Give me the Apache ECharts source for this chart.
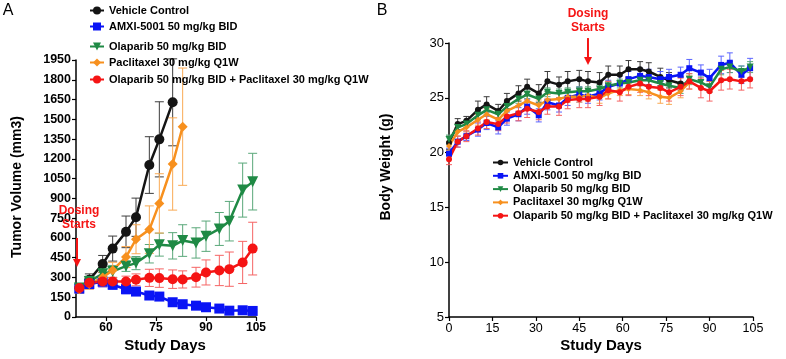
<!DOCTYPE html>
<html>
<head>
<meta charset="utf-8">
<script src="https://cdn.jsdelivr.net/npm/echarts@6/dist/echarts.min.js"></script>
<style>
  html, body { margin: 0; padding: 0; background: #fff; }
  #chart { width: 786px; height: 359px; }
</style>
</head>
<body>
<div id="chart"></div>
<script>
// Panel A: tumour volume (mm3), mean and error
const tvDays = [52, 55, 59, 62, 66, 69, 73, 76, 80, 83, 87, 90, 94, 97, 101, 104];
const tvVehicle = [219, 282, 402, 519, 646, 757, 1153, 1348, 1629];
const tvVehicleErr = [30, 45, 65, 95, 120, 145, 215, 285, 330];
const tvAmxi = [215, 250, 268, 245, 211, 193, 163, 155, 112, 97, 86, 74, 64, 48, 51, 46];
const tvAmxiErr = [30, 35, 40, 35, 35, 30, 28, 25, 18, 15, 15, 12, 10, 8, 8, 8];
const tvOla = [220, 270, 328, 346, 386, 409, 480, 549, 540, 580, 562, 613, 668, 727, 963, 1027];
const tvOlaErr = [30, 40, 45, 45, 40, 50, 70, 87, 100, 120, 115, 115, 125, 150, 205, 215];
const tvPac = [210, 250, 300, 355, 455, 590, 663, 862, 1161, 1444];
const tvPacErr = [30, 40, 40, 60, 80, 110, 180, 225, 350, 445];
const tvCombo = [220, 260, 270, 270, 270, 282, 297, 295, 287, 285, 302, 338, 353, 363, 414, 519];
const tvComboErr = [30, 35, 40, 30, 40, 45, 65, 70, 70, 65, 75, 95, 115, 130, 160, 200];
const tvXTicks = [60, 75, 90, 105];

// Panel B: body weight (g)
const bwDays = [0, 3, 6, 10, 13, 17, 20, 24, 27, 31, 34, 38, 41, 45, 48, 52, 55, 59, 62, 66, 69, 73, 76, 80, 83, 87, 90, 94, 97, 101, 104];
const bwVehicle = [20.9, 22.6, 22.9, 23.9, 24.4, 23.8, 24.7, 25.4, 26.0, 25.4, 26.5, 26.2, 26.5, 26.7, 26.5, 26.4, 27.1, 27.1, 27.6, 27.6, 27.4, 26.9, 26.6, 26.3];
const bwVehicleErr = [0.6, 0.5, 0.4, 0.8, 0.7, 0.6, 0.7, 0.7, 0.7, 0.8, 0.9, 0.7, 0.9, 0.8, 0.9, 0.9, 0.8, 0.8, 0.8, 0.7, 0.8, 0.8, 0.7, 0.6];
const bwAmxi = [19.9, 21.0, 21.5, 22.1, 22.7, 22.3, 23.1, 23.5, 24.2, 23.4, 24.6, 24.3, 25.0, 25.3, 25.1, 25.4, 26.0, 26.3, 26.7, 27.0, 26.9, 26.7, 26.9, 27.1, 27.7, 27.3, 26.8, 28.0, 28.2, 27.1, 27.7];
const bwAmxiErr = [0.5, 0.5, 0.4, 0.6, 0.6, 0.6, 0.6, 0.6, 0.7, 0.6, 0.7, 0.6, 0.7, 0.7, 0.6, 0.6, 0.6, 0.7, 0.7, 0.7, 0.7, 0.7, 0.7, 0.7, 0.8, 0.7, 0.8, 0.8, 0.9, 0.8, 0.9];
const bwOla = [21.2, 22.3, 22.6, 23.4, 23.9, 23.5, 24.2, 24.9, 25.3, 24.9, 25.5, 25.4, 25.5, 25.6, 25.6, 25.8, 26.1, 26.3, 26.4, 26.6, 26.6, 26.3, 26.1, 25.9, 26.7, 26.4, 26.0, 27.6, 27.8, 27.4, 27.8];
const bwOlaErr = [0.4, 0.3, 0.3, 0.4, 0.4, 0.4, 0.4, 0.4, 0.4, 0.4, 0.4, 0.4, 0.4, 0.4, 0.4, 0.4, 0.4, 0.4, 0.5, 0.5, 0.5, 0.5, 0.5, 0.5, 0.5, 0.5, 0.5, 0.5, 0.5, 0.5, 0.5];
const bwPac = [20.6, 21.9, 22.3, 23.0, 23.5, 23.0, 23.8, 24.3, 24.7, 24.3, 24.8, 24.9, 25.1, 25.1, 25.2, 25.0, 25.4, 25.7, 25.8, 25.7, 25.5, 25.1, 25.0, 25.6, 26.4];
const bwPacErr = [0.4, 0.4, 0.4, 0.5, 0.5, 0.5, 0.5, 0.5, 0.5, 0.5, 0.5, 0.5, 0.5, 0.5, 0.5, 0.5, 0.5, 0.5, 0.5, 0.5, 0.6, 0.6, 0.6, 0.6, 0.6];
const bwCombo = [19.4, 21.0, 21.5, 22.2, 22.8, 22.6, 23.3, 23.6, 24.0, 23.7, 24.2, 24.2, 24.8, 24.9, 24.9, 25.1, 25.7, 25.5, 26.0, 26.3, 26.0, 25.9, 25.5, 26.0, 26.5, 25.9, 25.6, 26.6, 26.7, 26.5, 26.7];
const bwComboErr = [0.5, 0.5, 0.5, 0.6, 0.6, 0.6, 0.6, 0.7, 0.8, 0.7, 0.7, 0.8, 0.8, 0.8, 0.8, 0.8, 0.8, 0.8, 0.8, 0.8, 0.8, 0.8, 0.8, 0.8, 0.7, 0.9, 0.9, 0.9, 0.9, 0.8, 0.8];

const names = [
  'Vehicle Control',
  'AMXI-5001 50 mg/kg BID',
  'Olaparib 50 mg/kg BID',
  'Paclitaxel 30 mg/kg Q1W',
  'Olaparib 50 mg/kg BID + Paclitaxel 30 mg/kg Q1W',
];
const colors = ['#141414', '#0a14f5', '#1f8a45', '#f7901e', '#f51414'];
const errColors = ['#3c3c3c', '#5a64ff', '#5aa87a', '#f9aa55', '#f56464'];
const symbols = ['circle', 'rect', 'triangle', 'diamond', 'circle'];
const rotates = [0, 0, 180, 0, 0];

const font = '"Liberation Sans", Arial, sans-serif';

function pairs(days, vals) {
  return vals.map((v, i) => [days[i], v]);
}

function errData(days, vals, errs) {
  return vals.map((v, i) => [days[i], v - errs[i], v + errs[i]]);
}

function errSeries(idx, days, vals, errs, cap, gi) {
  return {
    type: 'custom',
    name: names[idx] + ' err',
    xAxisIndex: gi,
    yAxisIndex: gi,
    data: errData(days, vals, errs),
    encode: { x: 0, y: [1, 2] },
    z: 1,
    silent: true,
    renderItem: (params, api) => {
      const x = api.value(0);
      const top = api.coord([x, api.value(2)]);
      const bot = api.coord([x, api.value(1)]);
      const st = { stroke: errColors[idx], lineWidth: 1 };
      return {
        type: 'group',
        children: [
          { type: 'line', shape: { x1: top[0], y1: top[1], x2: bot[0], y2: bot[1] }, style: st },
          { type: 'line', shape: { x1: top[0] - cap, y1: top[1], x2: top[0] + cap, y2: top[1] }, style: st },
          { type: 'line', shape: { x1: bot[0] - cap, y1: bot[1], x2: bot[0] + cap, y2: bot[1] }, style: st },
        ],
      };
    },
  };
}

function lineSeries(idx, days, vals, size, gi) {
  return {
    type: 'line',
    name: names[idx],
    xAxisIndex: gi,
    yAxisIndex: gi,
    data: pairs(days, vals),
    symbol: symbols[idx],
    symbolSize: symbols[idx] === 'triangle' ? size + 1 : size,
    symbolRotate: rotates[idx],
    showAllSymbol: true,
    z: 3,
    color: colors[idx],
    lineStyle: { color: colors[idx], width: 2.5 },
    itemStyle: { color: colors[idx] },
    emphasis: { disabled: true },
  };
}

const tvSets = [
  [tvVehicle, tvVehicleErr],
  [tvAmxi, tvAmxiErr],
  [tvOla, tvOlaErr],
  [tvPac, tvPacErr],
  [tvCombo, tvComboErr],
];
const bwSets = [
  [bwVehicle, bwVehicleErr],
  [bwAmxi, bwAmxiErr],
  [bwOla, bwOlaErr],
  [bwPac, bwPacErr],
  [bwCombo, bwComboErr],
];

const series = [];
tvSets.forEach((s, i) => series.push(lineSeries(i, tvDays, s[0], 10, 0)));
bwSets.forEach((s, i) => series.push(lineSeries(i, bwDays, s[0], 6, 1)));
tvSets.forEach((s, i) => series.push(errSeries(i, tvDays, s[0], s[1], 4.5, 0)));
bwSets.forEach((s, i) => series.push(errSeries(i, bwDays, s[0], s[1], 3, 1)));

const axisLine = { show: true, onZero: false, lineStyle: { color: '#000', width: 1.5 } };
const axisTick = { show: true, inside: false, length: 4, lineStyle: { color: '#000', width: 1.2 } };

// left legend rows sit at uneven heights in the source figure
const tvLegendTops = [5, 21, 41, 57, 74];
const legends = names.map((n, i) => ({
  data: [n],
  left: 89,
  top: tvLegendTops[i],
  padding: 0,
  itemWidth: 14,
  itemHeight: 10,
  selectedMode: false,
  textStyle: { fontSize: 11, fontWeight: 'bold', color: '#000', fontFamily: font },
}));
legends.push({
  data: names,
  orient: 'vertical',
  left: 492,
  top: 157,
  padding: 0,
  itemGap: 2.3,
  itemWidth: 15,
  itemHeight: 7,
  selectedMode: false,
  textStyle: { fontSize: 11, fontWeight: 'bold', color: '#000', fontFamily: font },
});

const option = {
  animation: false,
  backgroundColor: '#fff',
  legend: legends,
  grid: [
    { left: 76, top: 60, width: 180, height: 257 },
    { left: 449, top: 43, width: 304, height: 274 },
  ],
  xAxis: [
    {
      type: 'value',
      gridIndex: 0,
      min: 51,
      max: 105,
      axisLine,
      axisTick: { ...axisTick, customValues: tvXTicks },
      splitLine: { show: false },
      axisLabel: {
        customValues: tvXTicks,
        margin: 5,
        fontSize: 12,
        fontWeight: 'bold',
        color: '#000',
        fontFamily: font,
      },
    },
    {
      type: 'value',
      gridIndex: 1,
      min: 0,
      max: 105,
      interval: 15,
      axisLine,
      axisTick,
      splitLine: { show: false },
      axisLabel: { margin: 5, fontSize: 12.5, color: '#000', fontFamily: font },
    },
  ],
  yAxis: [
    {
      type: 'value',
      gridIndex: 0,
      min: 0,
      max: 1950,
      interval: 150,
      axisLine,
      axisTick,
      splitLine: { show: false },
      axisLabel: {
        margin: 5,
        fontSize: 12.5,
        fontWeight: 'bold',
        color: '#000',
        fontFamily: font,
        formatter: (v) => String(v),
      },
    },
    {
      type: 'value',
      gridIndex: 1,
      min: 5,
      max: 30,
      interval: 5,
      axisLine,
      axisTick,
      splitLine: { show: false },
      axisLabel: { margin: 5, fontSize: 13, color: '#000', fontFamily: font },
    },
  ],
  series,
};

const chart = echarts.init(document.getElementById('chart'), null, { renderer: 'canvas' });
chart.setOption(option);

// annotations: dosing arrows anchored on the axes
function arrow(gi, day, yFrom, yTo) {
  const a = chart.convertToPixel({ gridIndex: gi }, [day, yFrom]);
  const b = chart.convertToPixel({ gridIndex: gi }, [day, yTo]);
  return [
    {
      type: 'line',
      shape: { x1: a[0], y1: a[1], x2: b[0], y2: b[1] - 6 },
      style: { stroke: '#f51414', lineWidth: 2 },
      z: 10,
    },
    {
      type: 'polygon',
      shape: { points: [[b[0] - 4, b[1] - 8], [b[0] + 4, b[1] - 8], [b[0], b[1]]] },
      style: { fill: '#f51414' },
      z: 10,
    },
  ];
}

const redText = { fill: '#f51414', font: 'bold 12px ' + font, align: 'center', lineHeight: 13.5 };
const titleText = { fill: '#000', font: 'bold 15px ' + font, align: 'center', verticalAlign: 'middle' };

chart.setOption({
  graphic: [
    ...arrow(0, 51.3, 600, 380),
    ...arrow(1, 48, 30.45, 28),
    { type: 'text', x: 79, y: 204, style: { ...redText, text: 'Dosing\nStarts' }, z: 10 },
    { type: 'text', x: 588, y: 7, style: { ...redText, text: 'Dosing\nStarts' }, z: 10 },
    { type: 'text', x: 8, y: 11, style: { text: 'A', fill: '#000', font: '16px ' + font, align: 'center', verticalAlign: 'middle' } },
    { type: 'text', x: 382, y: 11, style: { text: 'B', fill: '#000', font: '16px ' + font, align: 'center', verticalAlign: 'middle' } },
    { type: 'text', x: 165, y: 346, style: { ...titleText, text: 'Study Days' } },
    { type: 'text', x: 601, y: 346, style: { ...titleText, text: 'Study Days' } },
    { type: 'text', x: 17, y: 187, rotation: Math.PI / 2, style: { ...titleText, font: 'bold 14px ' + font, text: 'Tumor Volume (mm3)' } },
    { type: 'text', x: 386, y: 167, rotation: Math.PI / 2, style: { ...titleText, font: 'bold 14px ' + font, text: 'Body Weight (g)' } },
  ],
});
</script>
</body>
</html>
